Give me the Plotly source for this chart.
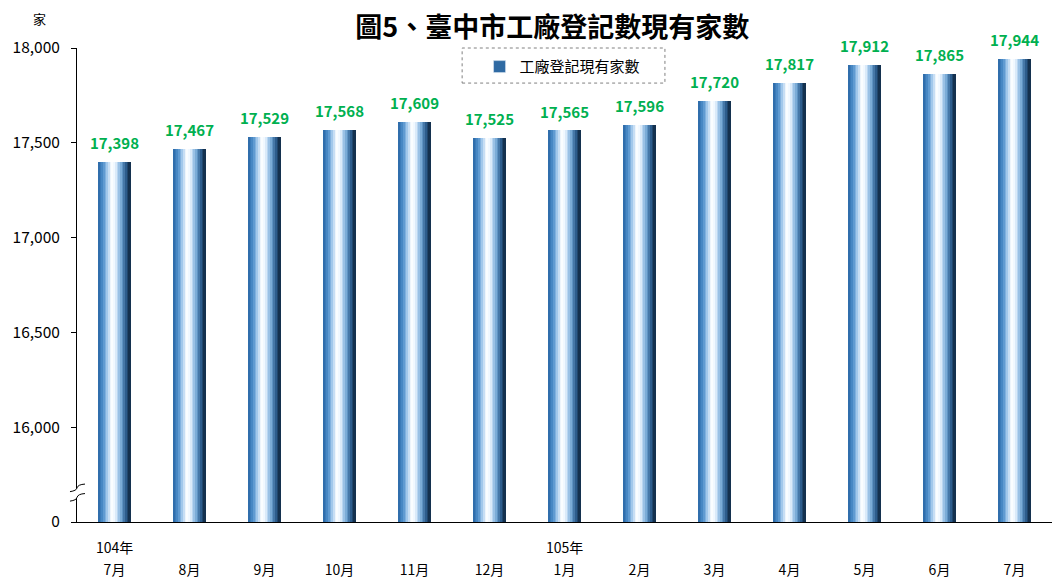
import plotly.graph_objects as go

# ---- data ----
categories = ["104年7月", "104年8月", "104年9月", "104年10月", "104年11月", "104年12月",
              "105年1月", "105年2月", "105年3月", "105年4月", "105年5月", "105年6月", "105年7月"]
month_labels = ["7月", "8月", "9月", "10月", "11月", "12月", "1月", "2月", "3月", "4月", "5月", "6月", "7月"]
year_labels = {"104年7月": "104年", "105年1月": "105年"}
values = [17398, 17467, 17529, 17568, 17609, 17525, 17565, 17596, 17720, 17817, 17912, 17865, 17944]
series_name = "工廠登記現有家數"
y_tickvals = [15500, 16000, 16500, 17000, 17500, 18000]
y_ticktext = ["0", "16,000", "16,500", "17,000", "17,500", "18,000"]
title_text = "圖5、臺中市工廠登記數現有家數"

FONT = "Noto Sans CJK TC"

# cylinder-like horizontal gradient built from thin overlaid strips
stops = [(0.0, (0x2a, 0x68, 0xa6)), (0.15, (0x4c, 0x8c, 0xc8)), (0.30, (0xa8, 0xcc, 0xee)),
         (0.42, (0xff, 0xff, 0xff)), (0.52, (0xee, 0xf6, 0xff)), (0.62, (0xb0, 0xd0, 0xee)),
         (0.74, (0x6a, 0xa0, 0xd0)), (0.87, (0x2c, 0x5c, 0x8c)), (1.0, (0x0e, 0x26, 0x40))]


def grad(t):
    for (a, ca), (b, cb) in zip(stops[:-1], stops[1:]):
        if a <= t <= b:
            f = (t - a) / (b - a)
            c = [round(ca[k] + (cb[k] - ca[k]) * f) for k in range(3)]
            return "rgb(%d,%d,%d)" % tuple(c)
    return "rgb(14,38,64)"


bar_w = 0.43
n = 19
sw = bar_w / n
fig = go.Figure()
for i in range(n):
    t = (i + 0.5) / n
    fig.add_trace(go.Bar(
        x=categories, y=values, width=[sw * 1.02] * len(values),
        offset=[-bar_w / 2 + i * sw] * len(values),
        marker=dict(color=grad(t), line=dict(width=0)),
        name=series_name, showlegend=False, hoverinfo="skip"))

# legend entry
fig.add_trace(go.Bar(x=[categories[0]], y=[None], name=series_name,
                     marker=dict(color="#2f6aa3"), showlegend=True))

# data labels
fig.add_trace(go.Scatter(
    x=categories, y=values, mode="markers+text", text=[f"{v:,}" for v in values],
    textposition="top center", showlegend=False, cliponaxis=False, hoverinfo="skip",
    marker=dict(size=13, color="rgba(0,0,0,0)"),
    textfont=dict(family=FONT, size=15, color="#00b050", weight="bold")))

fig.update_layout(
    width=1052, height=579,
    margin=dict(l=77, r=0, t=48, b=57),
    paper_bgcolor="white", plot_bgcolor="white",
    barmode="overlay", bargap=0,
    font=dict(family=FONT, size=14, color="#000000"),
    title=dict(text="<b>" + title_text + "</b>", x=0.525, xref="container", xanchor="center",
               y=0.953, yref="container", yanchor="middle",
               font=dict(family=FONT, size=27, color="#000000")),
    legend=dict(x=0.498, xanchor="center", y=0.995, yanchor="top", orientation="h",
                bgcolor="rgba(255,255,255,0)", borderwidth=0, itemwidth=30,
                font=dict(family=FONT, size=15, color="#000000")),
    xaxis=dict(type="category", tickmode="array", tickvals=categories, ticktext=month_labels,
               range=[-0.5, len(categories) - 0.5],
               showline=True, linecolor="black", linewidth=1, ticks="", showgrid=False,
               ticklabelstandoff=35, tickfont=dict(family=FONT, size=14), fixedrange=True),
    yaxis=dict(range=[15500, 18000], tickmode="array", tickvals=y_tickvals, ticktext=y_ticktext,
               showline=True, linecolor="black", linewidth=1, ticks="outside", ticklen=5,
               tickcolor="black", showgrid=False, zeroline=False, ticklabelstandoff=8,
               tickfont=dict(family=FONT, size=15.5), fixedrange=True),
)

# year labels under the axis
for cat, lab in year_labels.items():
    fig.add_annotation(x=cat, xref="x", y=-0.053, yref="paper", text=lab, showarrow=False,
                       yanchor="middle", font=dict(family=FONT, size=14, color="#000000"))

# unit label
fig.add_annotation(x=-0.038, xref="paper", y=1.063, yref="paper", text="家", showarrow=False,
                   xanchor="center", yanchor="middle",
                   font=dict(family=FONT, size=13, color="#000000"))

# legend dotted frame
fig.add_shape(type="rect", xref="paper", yref="paper", x0=0.395, x1=0.603, y0=0.926, y1=1.0,
              line=dict(color="#808080", width=1, dash="dot"), fillcolor="rgba(0,0,0,0)", layer="below")

# axis break marks
fig.add_shape(type="path", xref="paper", yref="y",
              path="M -0.0072,15660 L 0.0082,15700 L 0.0082,15650 L -0.0072,15610 Z",
              fillcolor="white", line=dict(width=0), layer="above")
for y0 in (15660, 15610):
    fig.add_shape(type="path", xref="paper", yref="y",
                  path=f"M -0.0072,{y0} Q -0.0005,{y0 + 5} 0.0,{y0 + 20} Q 0.001,{y0 + 38} 0.0082,{y0 + 40}",
                  line=dict(color="black", width=1), layer="above")

fig.write_html("out.html", config={"displayModeBar": False},
               post_script="document.body.style.margin='0px';")
